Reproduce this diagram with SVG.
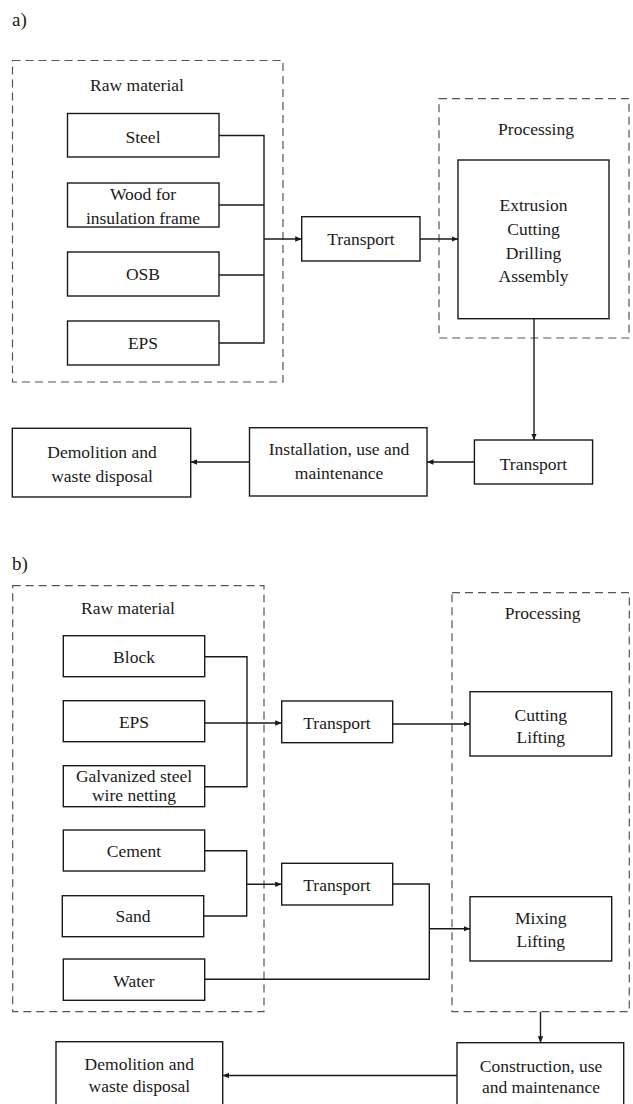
<svg xmlns="http://www.w3.org/2000/svg" width="633" height="1104" viewBox="0 0 633 1104">
<style>
text{font-family:"Liberation Serif","Times New Roman",serif;font-size:17.5px;fill:#1a1a1a;text-anchor:middle}
.lbl{font-size:19px;text-anchor:start}
.box{fill:#fff;stroke:#1a1a1a;stroke-width:1.4}
.grp{fill:none;stroke:#555;stroke-width:1.2;stroke-dasharray:8 5}
.con{fill:none;stroke:#1a1a1a;stroke-width:1.4}
.arr{fill:none;stroke:#1a1a1a;stroke-width:1.4;marker-end:url(#ah)}
</style>
<defs>
<marker id="ah" markerUnits="userSpaceOnUse" markerWidth="7" markerHeight="6" refX="6.5" refY="2.75" orient="auto">
<path d="M0,0 L6.5,2.75 L0,5.5 z" fill="#1a1a1a"/>
</marker>
</defs>
<rect width="633" height="1104" fill="#fff"/>

<text class="lbl" x="12" y="26">a)</text>
<text class="lbl" x="12" y="570">b)</text>

<!-- Panel a groups -->
<g id="a-raw-group">
<rect class="grp" x="12.5" y="60.5" width="270.5" height="321.5"/>
<text x="137" y="90.5">Raw material</text>
</g>
<g id="a-proc-group">
<rect class="grp" x="439" y="98.7" width="190" height="239.3"/>
<text x="536" y="135">Processing</text>
</g>

<!-- Panel b groups -->
<g id="b-raw-group">
<rect class="grp" x="12.7" y="585.7" width="251.3" height="426"/>
<text x="128" y="614">Raw material</text>
</g>
<g id="b-proc-group">
<rect class="grp" x="452" y="592.7" width="177.3" height="419"/>
<text x="542.7" y="619.3">Processing</text>
</g>

<!-- Connectors -->
<g id="connectors">
<!-- a -->
<polyline class="con" points="219,135.5 264,135.5 264,343 219,343"/>
<line class="con" x1="219" y1="205" x2="264" y2="205"/>
<line class="con" x1="219" y1="275" x2="264" y2="275"/>
<line class="arr" x1="264" y1="239" x2="301.7" y2="239"/>
<line class="arr" x1="420" y1="239" x2="458" y2="239"/>
<line class="arr" x1="534" y1="318.7" x2="534" y2="440"/>
<line class="arr" x1="474.4" y1="462" x2="427" y2="462"/>
<line class="arr" x1="249.5" y1="462" x2="190.7" y2="462"/>
<!-- b -->
<polyline class="con" points="204.7,656.7 247,656.7 247,786.7 204.7,786.7"/>
<line class="arr" x1="204.7" y1="723" x2="281.7" y2="723"/>
<line class="arr" x1="392.7" y1="724" x2="470" y2="724"/>
<polyline class="con" points="204.7,850.7 246.7,850.7 246.7,916 203.7,916"/>
<line class="arr" x1="246.7" y1="884.3" x2="281.7" y2="884.3"/>
<polyline class="con" points="392.7,884 429.3,884 429.3,979.3 204.7,979.3"/>
<line class="arr" x1="429.3" y1="928.7" x2="470" y2="928.7"/>
<line class="arr" x1="540.5" y1="1011.7" x2="540.5" y2="1042.7"/>
<line class="arr" x1="457" y1="1075.5" x2="222.7" y2="1075.5"/>
</g>

<!-- Panel a nodes -->
<g id="a-steel"><rect class="box" x="67.5" y="113.5" width="151.5" height="43.5"/><text x="143" y="142.5">Steel</text></g>
<g id="a-wood"><rect class="box" x="67.5" y="183" width="151.5" height="44"/><text x="143" y="200">Wood for</text><text x="143" y="224">insulation frame</text></g>
<g id="a-osb"><rect class="box" x="67.5" y="252" width="151.5" height="44"/><text x="143" y="280">OSB</text></g>
<g id="a-eps"><rect class="box" x="67.5" y="321" width="151.5" height="44"/><text x="143" y="349">EPS</text></g>
<g id="a-transport1"><rect class="box" x="301.7" y="216.7" width="118.3" height="44.3"/><text x="361" y="245">Transport</text></g>
<g id="a-processing"><rect class="box" x="458" y="160" width="151" height="158.7"/>
<text x="533.5" y="211">Extrusion</text><text x="533.5" y="235">Cutting</text><text x="533.5" y="258.5">Drilling</text><text x="533.5" y="282">Assembly</text></g>
<g id="a-transport2"><rect class="box" x="474.4" y="440" width="118.2" height="44"/><text x="533.5" y="470">Transport</text></g>
<g id="a-install"><rect class="box" x="249.5" y="427.7" width="177.5" height="68.3"/><text x="339" y="455">Installation, use and</text><text x="339" y="479">maintenance</text></g>
<g id="a-demolition"><rect class="box" x="12.3" y="428.3" width="178.4" height="68.7"/><text x="102" y="458.3">Demolition and</text><text x="102" y="481.7">waste disposal</text></g>

<!-- Panel b nodes -->
<g id="b-block"><rect class="box" x="63.3" y="635.7" width="141.4" height="41"/><text x="134" y="663.3">Block</text></g>
<g id="b-eps"><rect class="box" x="63.3" y="700.7" width="141.4" height="41"/><text x="134" y="728.3">EPS</text></g>
<g id="b-galv"><rect class="box" x="63.3" y="765.7" width="141.4" height="41"/><text x="134" y="782.3">Galvanized steel</text><text x="134" y="800.5">wire netting</text></g>
<g id="b-cement"><rect class="box" x="63.3" y="830" width="141.4" height="41"/><text x="134" y="856.7">Cement</text></g>
<g id="b-sand"><rect class="box" x="62.3" y="895.7" width="141.4" height="41"/><text x="133" y="922.3">Sand</text></g>
<g id="b-water"><rect class="box" x="63.3" y="959" width="141.4" height="41.3"/><text x="134" y="986.7">Water</text></g>
<g id="b-transport1"><rect class="box" x="281.7" y="701" width="111" height="41.7"/><text x="337" y="729.3">Transport</text></g>
<g id="b-transport2"><rect class="box" x="281.7" y="863.3" width="111" height="41.7"/><text x="337" y="891">Transport</text></g>
<g id="b-cutting"><rect class="box" x="470" y="691.7" width="141.7" height="64.3"/><text x="540.8" y="720.7">Cutting</text><text x="540.8" y="743">Lifting</text></g>
<g id="b-mixing"><rect class="box" x="470" y="896.7" width="141.7" height="64.3"/><text x="540.8" y="924">Mixing</text><text x="540.8" y="947.3">Lifting</text></g>
<g id="b-construction"><rect class="box" x="457" y="1042.7" width="166.7" height="70"/><text x="541" y="1071.7">Construction, use</text><text x="541" y="1093">and maintenance</text></g>
<g id="b-demolition"><rect class="box" x="56" y="1041.7" width="166.7" height="70"/><text x="139.3" y="1070">Demolition and</text><text x="139.3" y="1091.7">waste disposal</text></g>
</svg>
